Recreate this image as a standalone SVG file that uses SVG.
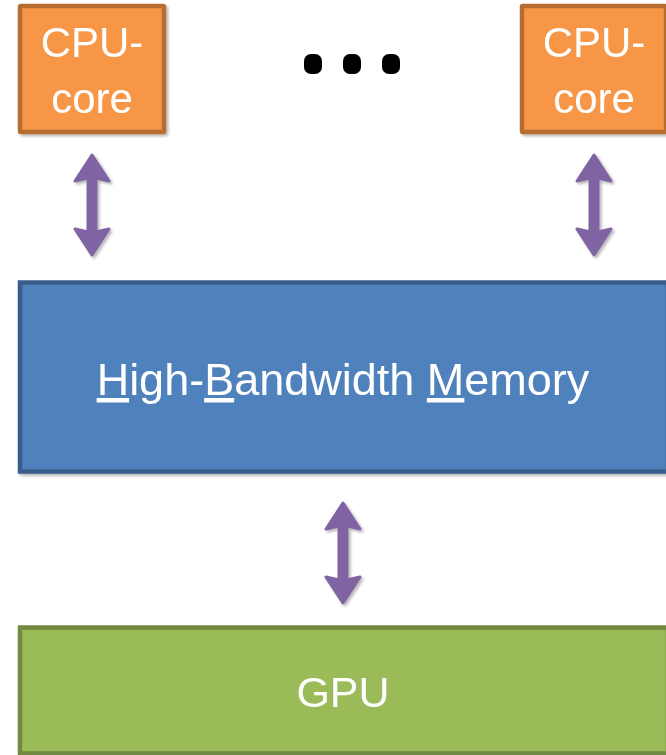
<svg xmlns="http://www.w3.org/2000/svg" width="666" height="755" viewBox="0 0 666 755">
<defs>
<filter id="sh" x="-10%" y="-10%" width="130%" height="130%">
<feGaussianBlur in="SourceAlpha" stdDeviation="1.5"/>
<feOffset dx="2" dy="2" result="b"/>
<feComponentTransfer><feFuncA type="linear" slope="0.3"/></feComponentTransfer>
<feMerge><feMergeNode/><feMergeNode in="SourceGraphic"/></feMerge>
</filter>
<path id="dbl" d="M0 -50 L17 -24 L4 -27 V27 L17 24 L0 50 L-17 24 L-4 27 V-27 L-17 -24 Z"/>
</defs>
<style>
.cpu{fill:#F79646;stroke:#B66D31;stroke-width:4.5}
.hbm{fill:#4F81BD;stroke:#385D8A;stroke-width:4.5}
.gpu{fill:#9BBB59;stroke:#71893F;stroke-width:4.5}
.t{font-family:"Liberation Sans",Arial,sans-serif;fill:#FFFFFF;text-anchor:middle}
.arr{fill:#8064A2;stroke:#8064A2;stroke-width:3;stroke-linejoin:round}
</style>
<rect width="666" height="755" fill="#FFFFFF"/>
<g id="cpu1" filter="url(#sh)">
<rect class="cpu" x="20" y="6" width="144" height="126" rx="1"/>
<text class="t" x="92" y="57" font-size="42">CPU-</text>
<text class="t" x="92" y="113" font-size="42">core</text>
</g>
<g id="cpu2" filter="url(#sh)">
<rect class="cpu" x="522" y="6" width="144" height="126" rx="1"/>
<text class="t" x="594" y="57" font-size="42">CPU-</text>
<text class="t" x="594" y="113" font-size="42">core</text>
</g>
<g id="dots" fill="#000000">
<rect x="304" y="54" width="18" height="20" rx="7"/>
<rect x="343" y="54" width="18" height="20" rx="7"/>
<rect x="382" y="54" width="18" height="20" rx="7"/>
</g>
<g id="hbm" filter="url(#sh)">
<rect class="hbm" x="20" y="282.5" width="648" height="189"/>
<text class="t" x="343" y="395" font-size="45"><tspan style="text-decoration:underline">H</tspan>igh-<tspan style="text-decoration:underline">B</tspan>andwidth <tspan style="text-decoration:underline">M</tspan>emory</text>
</g>
<g id="gpu" filter="url(#sh)">
<rect class="gpu" x="20" y="627.5" width="648" height="126"/>
<text class="t" x="343" y="707" font-size="43">GPU</text>
</g>
<g id="connectors" filter="url(#sh)">
<use href="#dbl" class="arr" x="92" y="205"/>
<use href="#dbl" class="arr" x="594" y="205"/>
<use href="#dbl" class="arr" x="343" y="553"/>
</g>
</svg>
